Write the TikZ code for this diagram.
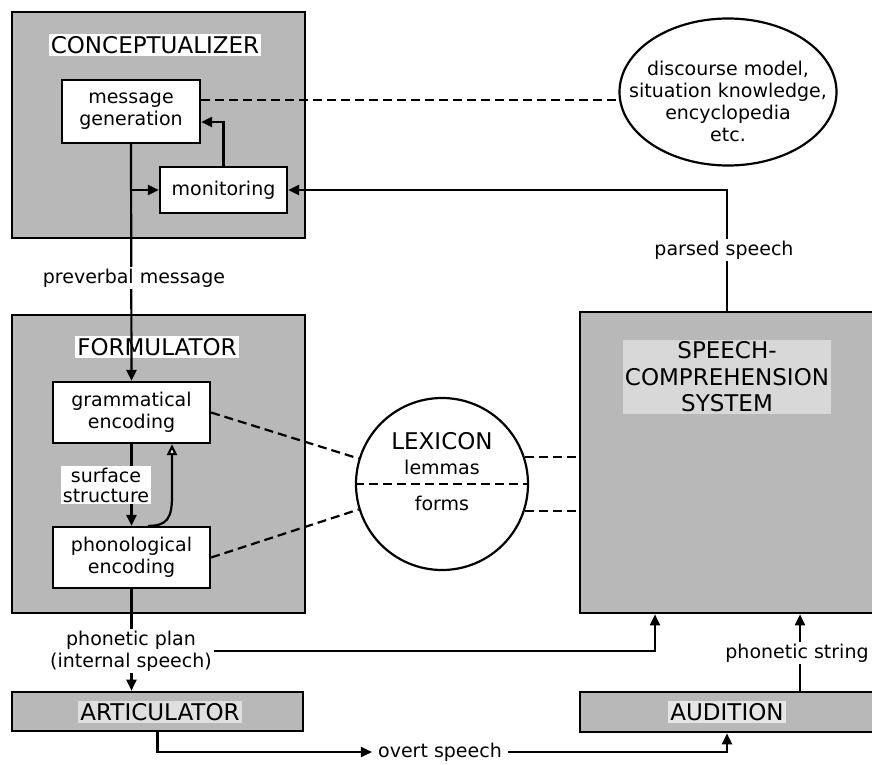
\documentclass[tikz,border=0pt]{standalone}
\usepackage{fontspec}
\setmainfont{DejaVu Sans}
\usetikzlibrary{shapes.geometric,arrows.meta,calc}
\definecolor{screen}{gray}{0.72}

\begin{document}
\begin{tikzpicture}[x=1pt,y=-1pt,
    font=\fontsize{19}{22}\selectfont,
    unit/.style={draw,line width=2.6pt,fill=screen,inner sep=0pt},
    proc/.style={draw,line width=2.2pt,fill=white,inner sep=0pt,align=center},
    title/.style={fill=white,inner sep=2pt,align=center,font=\fontsize{23}{26.5}\selectfont},
    tag/.style={fill=white,inner sep=2pt,align=center},
    flow/.style={line width=2.2pt,-{Triangle[length=11pt,width=10pt]}},
    link/.style={line width=2.2pt,dash pattern=on 9pt off 5pt}]
    \useasboundingbox (0,0) rectangle (872,765);

    % conceptualizer
    \path (158.5,125) node [unit,minimum width=293pt,minimum height=226pt] (concept) {};
    \path (155,45) node [title] (concepttitle) {CONCEPTUALIZER};
    \path (131,111.5) node [proc,minimum width=138pt,minimum height=63pt] (msggen) {message\\generation};
    \path (223.5,190) node [proc,minimum width=127pt,minimum height=46pt] (monitor) {monitoring};
    \path (728,92) node [ellipse,draw,line width=2.2pt,inner sep=0pt,
        minimum width=217pt,minimum height=147pt] (knowledge) {};
    \path (728,101) node [align=center] (knowtext)
        {discourse model,\\situation knowledge,\\encyclopedia\\etc.};

    % formulator
    \path (158.5,464) node [unit,minimum width=293pt,minimum height=298pt] (formul) {};
    \path (157,347) node [title] (formultitle) {FORMULATOR};
    \path (131.5,412.5) node [proc,minimum width=157pt,minimum height=61pt] (gramenc) {grammatical\\encoding};
    \path (131.5,557.5) node [proc,minimum width=157pt,minimum height=61pt] (phonenc) {phonological\\encoding};

    % lexicon
    \path (442,484) node [circle,draw,line width=2.2pt,minimum size=172pt,inner sep=0pt] (lexicon) {};
    \path (442,441) node [font=\fontsize{23}{26}\selectfont] (lextitle) {LEXICON};
    \path (442,467) node (lemmas) {lemmas};
    \path (442,503) node (forms) {forms};

    % speech comprehension, articulator, audition
    \path (727,462.5) node [unit,minimum width=294pt,minimum height=301pt] (speechcomp) {};
    \path (727,377) node [title,fill=white!45!screen] (speechtitle) {SPEECH-\\COMPREHENSION\\SYSTEM};
    \path (157.5,711.5) node [unit,minimum width=291pt,minimum height=39pt] (artic) {};
    \path (160,712) node [title,fill=white!55!screen] (artictitle) {ARTICULATOR};
    \path (727,712) node [unit,minimum width=294pt,minimum height=40pt] (audit) {};
    \path (727,712) node [title,fill=white!65!screen] (audittitle) {AUDITION};

    % connectors
    \draw [flow] (msggen.south) -- (gramenc.north);
    \draw [flow] (msggen.south |- monitor.west) -- (monitor.west);
    \draw [flow] (monitor.north) |- ($(msggen.east)+(0,10.5)$);
    \draw [link] ($(msggen.east)+(0,-11.5)$) -- ($(knowledge.west)+(0,8)$);
    \draw [flow] (speechcomp.north) |- (monitor.east);
    \draw [flow] (gramenc.south) -- (phonenc.north);
    \draw [line width=2.2pt,-{Triangle[length=11pt,width=10pt,fill=white]}]
        ($(phonenc.north)+(16.5,0)$) .. controls ($(phonenc.north)+(36,0)$) and ($(phonenc.north)+(40.5,-8)$)
        .. ($(phonenc.north)+(40.5,-30)$) -- ($(gramenc.south)+(40.5,0)$);
    \draw [link] (gramenc.east) -- (lexicon.163);
    \draw [link] (phonenc.east) -- (lexicon.197);
    \draw [link] (lexicon.west) -- (lexicon.east);
    \draw [link] (lexicon.18) -- (lexicon.18 -| speechcomp.west);
    \draw [link] (lexicon.-18) -- (lexicon.-18 -| speechcomp.west);
    \draw [flow] (phonenc.south) -- (phonenc.south |- artic.north);
    \draw [flow] ($(audit.north)+(73,0)$) -- ($(speechcomp.south)+(73,0)$);

    % labels on the lines
    \path (134,278) node [tag] (preverbal) {preverbal message};
    \path (106,485) node [tag,font=\fontsize{19}{20}\selectfont] (surface) {surface\\structure};
    \path (724,250) node [tag] (parsed) {parsed speech};
    \path (797,653) node [tag] (phstring) {phonetic string};
    \path (131,651) node [tag] (plan) {phonetic plan\\(internal speech)};
    \path (440,752) node [tag,inner xsep=6pt,inner ysep=1pt] (overt) {overt speech};
    \draw [flow] (plan.east) -| ($(speechcomp.south)+(-72,0)$);
    \draw [flow] (artic.south) |- (overt.west);
    \draw [flow] (overt.east) -| (audit.south);
\end{tikzpicture}
\end{document}
